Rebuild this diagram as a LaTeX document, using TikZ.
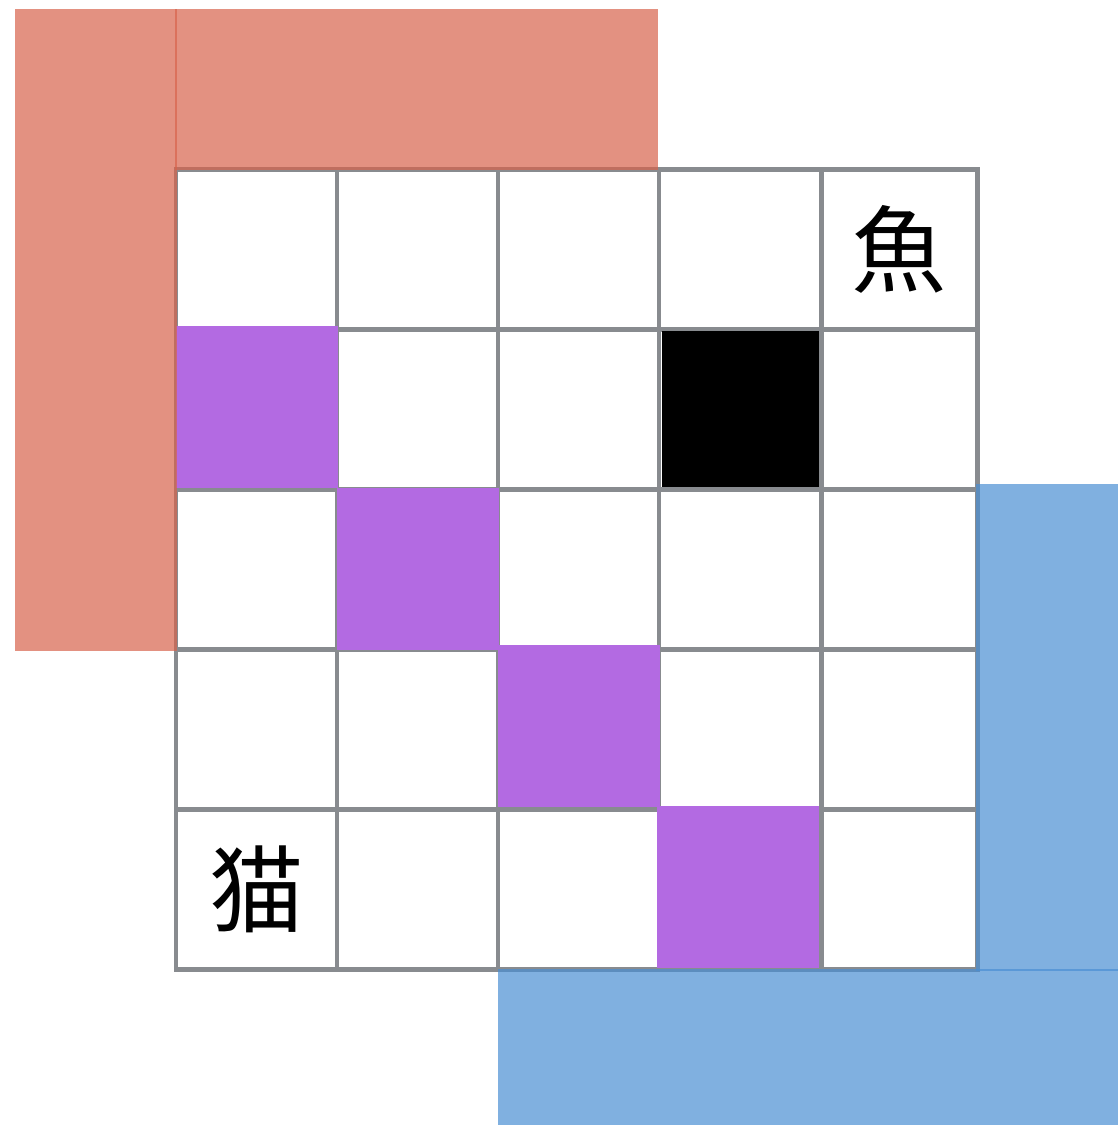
\documentclass[tikz,border=0pt]{standalone}
\usepackage{fontspec}
\newfontfamily\cjk{Noto Sans CJK JP}
\usepackage{xcolor}
\usepackage{tikz}
\usetikzlibrary{positioning}
\definecolor{gridgray}{RGB}{136,139,143}
\definecolor{hlred}{RGB}{215,99,76}
\definecolor{hlblue}{RGB}{74,142,211}
\definecolor{mark}{RGB}{179,106,226}

\begin{document}
\begin{tikzpicture}[
    cell/.style={rectangle,draw=gridgray,line width=1.42pt,
                 minimum height=1.600cm,inner sep=0pt},
    markcell/.style={rectangle,fill=mark,minimum size=1.62cm,inner sep=0pt},
    wall/.style={rectangle,fill=black,minimum width=1.57cm,minimum height=1.56cm,inner sep=0pt},
    glyph/.style={font=\cjk\fontsize{27}{27}\selectfont},
    redzone/.style={fill=hlred,opacity=0.7},
    bluezone/.style={fill=hlblue,opacity=0.7}]
\useasboundingbox (0,0) rectangle (11.18,-11.25);
% board
\foreach \r in {0,...,4}
  \foreach \c/\x/\w in {0/2.565/1.61,1/4.175/1.61,2/5.785/1.61,3/7.400/1.62,4/8.990/1.56}
    \node[cell,minimum width=\w cm] (c-\r-\c) at (\x,{-1.69-1.600*(\r+0.5)}) {};
\node[wall] (wall) at (c-1-3) {};
\node[markcell] (p1) at ([xshift=0.005cm,yshift=0.02cm]c-1-0) {};
\node[markcell] (p2) at ([xshift=0.0cm]c-2-1) {};
\node[markcell] (p3) at ([xshift=0.0cm,yshift=0.03cm]c-3-2) {};
\node[markcell] (p4) at ([xshift=-0.025cm,yshift=0.02cm]c-4-3) {};
\node[glyph] (fish) at (c-0-4) {魚};
\node[glyph] (cat)  at (c-4-0) {猫};
% zones
\fill[redzone] (0.15,-0.09) rectangle (1.77,-6.51);
\fill[redzone] (1.75,-0.09) rectangle (6.58,-1.70);
\fill[bluezone] (9.76,-4.84) rectangle (11.18,-9.71);
\fill[bluezone] (4.98,-9.69) rectangle (11.18,-11.25);
\end{tikzpicture}
\end{document}
